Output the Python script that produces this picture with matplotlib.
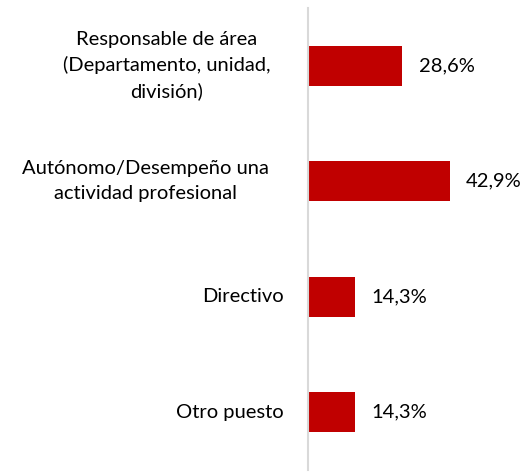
import numpy as np
import matplotlib.pyplot as plt

categorias = ['Responsable de área\n(Departamento, unidad,\ndivisión)',
              'Autónomo/Desempeño una\nactividad profesional',
              'Directivo',
              'Otro puesto']
valores = [28.6, 42.9, 14.3, 14.3]
etiquetas = ['28,6%', '42,9%', '14,3%', '14,3%']

# posición de las etiquetas de categoría (px desde el eje, alineación)
desplaz = [(-141, 'center'), (-163, 'center'), (-24, 'right'), (-24, 'right')]

plt.rcParams['font.family'] = ['Lato', 'DejaVu Sans']

fig = plt.figure(figsize=(5.31, 4.74), dpi=100)
ax = fig.add_axes([308/531, 4/474, 198/531, 462/474])

y = np.arange(len(categorias))
ax.barh(y, valores, height=0.35, color='#C00000')

for yi, v, t in zip(y, valores, etiquetas):
    ax.text(v + 5, yi, t, va='center', ha='left', fontsize=14.5)

for yi, c, (dx, ha) in zip(y, categorias, desplaz):
    ax.annotate(c, xy=(0, yi), xycoords=('axes fraction', 'data'),
                xytext=(dx, 0), textcoords='offset pixels',
                ha=ha, va='center', multialignment='center',
                fontsize=14.5, linespacing=1.55)

ax.set_yticks([])
ax.set_xticks([])
ax.set_xlim(0, 60)
ax.set_ylim(3.5, -0.5)

for s in ['top', 'right', 'bottom']:
    ax.spines[s].set_visible(False)
ax.spines['left'].set_color('#D9D9D9')
ax.spines['left'].set_linewidth(1.5)

fig.savefig('out.png', dpi=100)
